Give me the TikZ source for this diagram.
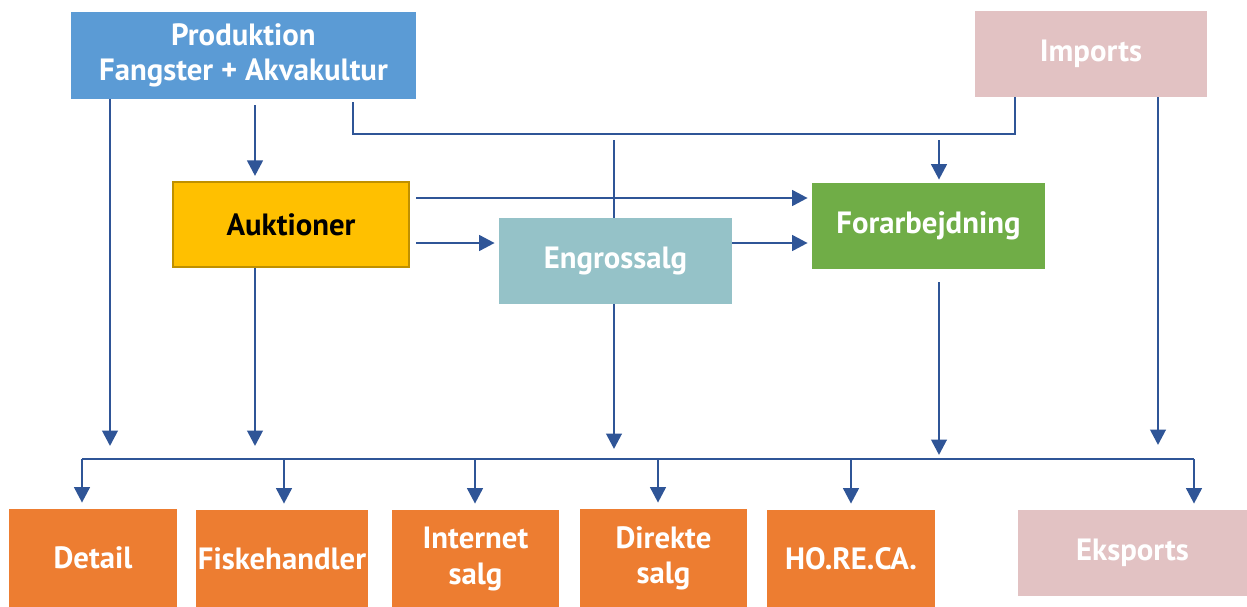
\documentclass[tikz,border=0pt]{standalone}
\usepackage{fontspec}
\setmainfont{PT Sans}
\usetikzlibrary{arrows.meta}
\definecolor{prodblue}{HTML}{5B9BD5}
\definecolor{tradepink}{HTML}{E2C2C3}
\definecolor{aukyellow}{HTML}{FFC000}
\definecolor{aukborder}{HTML}{BF9000}
\definecolor{engrosteal}{HTML}{95C2C8}
\definecolor{forgreen}{HTML}{70AD47}
\definecolor{salgorange}{HTML}{ED7D31}
\definecolor{flowblue}{HTML}{2F5597}
\tikzset{
  box/.style={inner sep=0pt, align=center, text=white, font=\fontsize{17.5}{20}\selectfont\bfseries},
  flow/.style={draw=flowblue, line width=1.6pt},
  arr/.style={flow, -{Triangle[width=3.1mm,length=3.1mm]}},
}

\begin{document}
\begin{tikzpicture}
   \useasboundingbox (0,0) rectangle (24.94,-12.12);
   % top row
      \node[box, fill=prodblue, minimum width=6.9cm, minimum height=1.74cm] (prod) at (4.87,-1.11) {Produktion\\Fangster + Akvakultur};
      \node[box, fill=tradepink, minimum width=4.64cm, minimum height=1.72cm] (imports) at (21.82,-1.08) {Imports};
   % middle row
      \node[box, fill=aukyellow, draw=aukborder, line width=1.2pt, text=black, minimum width=4.72cm, minimum height=1.70cm] (auk) at (5.82,-4.49) {Auktioner};
      \node[box, fill=engrosteal, minimum width=4.66cm, minimum height=1.72cm] (engros) at (12.31,-5.22) {Engrossalg};
      \node[box, fill=forgreen, minimum width=4.66cm, minimum height=1.72cm] (forarb) at (18.57,-4.52) {Forarbejdning};
   % bottom row
      \node[box, fill=salgorange, minimum width=3.36cm, minimum height=1.96cm] (detail) at (1.86,-11.16) {Detail};
      \node[box, fill=salgorange, minimum width=3.44cm, minimum height=1.96cm] (fisk) at (5.64,-11.18) {Fiskehandler};
      \node[box, fill=salgorange, minimum width=3.34cm, minimum height=1.96cm] (internet) at (9.51,-11.18) {Internet\\salg};
      \node[box, fill=salgorange, minimum width=3.34cm, minimum height=1.96cm] (direkte) at (13.27,-11.16) {Direkte\\salg};
      \node[box, fill=salgorange, minimum width=3.36cm, minimum height=1.96cm] (horeca) at (17.02,-11.18) {HO.RE.CA.};
      \node[box, fill=tradepink, minimum width=4.58cm, minimum height=1.72cm] (eksports) at (22.65,-11.06) {Eksports};
   % helper points
      \coordinate (p1) at (2.2,-8.92);
      \coordinate (p2) at (5.1,-8.92);
      \coordinate (loopL) at (7.06,-2.68);
      \coordinate (loopR) at (20.3,-2.68);
      \coordinate (e1) at (12.28,-2.8);
      \coordinate (e2) at (12.28,-8.98);
      \coordinate (f1) at (18.78,-2.8);
      \coordinate (f2) at (18.78,-5.64);
      \coordinate (f3) at (18.78,-9.1);
      \coordinate (i1) at (23.16,-8.9);
      \coordinate (a1) at ([yshift=5.3mm]auk.east);
      \coordinate (a2) at ([yshift=-3.7mm]auk.east);
      \coordinate (busL) at (1.64,-9.18);
      \coordinate (busR) at (23.88,-9.18);
   % from Produktion and Imports
      \draw[arr] (p1 |- prod.south) -- (p1);
      \draw[arr, shorten <=1.2mm, shorten >=1mm] (p2 |- prod.south) -- (p2 |- auk.north);
      \draw[flow, line width=1.1pt, shorten <=0.6mm] (loopL |- prod.south) -- (loopL) -- (loopR) -- (loopR |- imports.south);
      \draw[arr] (i1 |- imports.south) -- (i1);
   % into Engrossalg and Forarbejdning
      \draw[flow] (e1) -- (e1 |- engros.north);
      \draw[arr, shorten >=0.6mm] (f1) -- (f1 |- forarb.north);
      \draw[arr, shorten <=1.2mm, shorten >=0.8mm] (a1) -- (a1 -| forarb.west);
      \draw[arr, shorten <=1.2mm, shorten >=0.8mm] (a2) -- (a2 -| engros.west);
      \draw[arr, shorten >=0.8mm] (a2 -| engros.east) -- (a2 -| forarb.west);
   % down to the bus
      \draw[arr] (p2 |- auk.south) -- (p2);
      \draw[arr] (e1 |- engros.south) -- (e2);
      \draw[arr] (f2) -- (f3);
      \draw[flow] (busL) -- (busR);
      \foreach \x/\n in {1.64/detail, 5.68/fisk, 9.5/internet, 13.16/direkte, 17.02/horeca, 23.88/eksports}
      {
         \coordinate (t) at (\x,-9.18);
         \draw[arr, shorten >=1.2mm] (t) -- (t |- \n.north);
      }
\end{tikzpicture}
\end{document}
